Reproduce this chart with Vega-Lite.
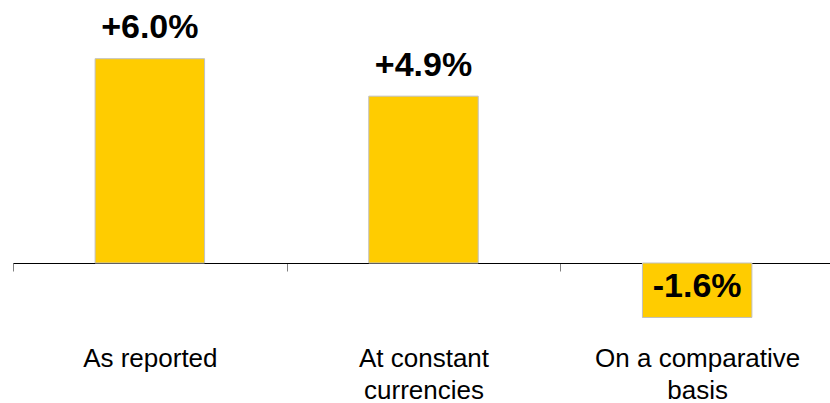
{
  "$schema": "https://vega.github.io/schema/vega-lite/v6.json",
  "width": 821,
  "height": 263,
  "autosize": {"type": "none"},
  "padding": {"left": 13, "top": 0, "right": 0, "bottom": 140},
  "background": "white",
  "config": {
    "view": {"stroke": null},
    "font": "Liberation Sans"
  },
  "data": {
    "values": [
      {"basis": "As reported", "growth": 6.0},
      {"basis": "At constant\ncurrencies", "growth": 4.9},
      {"basis": "On a comparative\nbasis", "growth": -1.6}
    ]
  },
  "transform": [
    {"calculate": "(datum.growth >= 0 ? '+' : '-') + format(abs(datum.growth), '.1f') + '%'", "as": "label"}
  ],
  "encoding": {
    "x": {
      "field": "basis",
      "type": "nominal",
      "sort": null,
      "scale": {"paddingInner": 0.6, "paddingOuter": 0.3},
      "axis": {
        "title": null,
        "labelAngle": 0,
        "labelExpr": "split(datum.label, '\\n')",
        "labelFont": "Liberation Sans",
        "labelFontSize": 26,
        "labelLineHeight": 32,
        "labelColor": "#000000",
        "labelPadding": 74,
        "labelLimit": 400,
        "tickOffset": -136.8,
        "labelOffset": 136.8,
        "tickSize": 8,
        "tickColor": "#808080",
        "tickWidth": 1,
        "domainColor": "#000000",
        "domainWidth": 1,
        "grid": false
      }
    },
    "y": {
      "field": "growth",
      "type": "quantitative",
      "scale": {"domain": [0, 7.724], "nice": false, "zero": true},
      "axis": null
    }
  },
  "layer": [
    {
      "mark": {"type": "bar", "fill": "#FFCC00", "stroke": "#C0C0C0", "strokeWidth": 1}
    },
    {
      "mark": {
        "type": "text",
        "font": "Liberation Sans",
        "fontSize": 34,
        "fontWeight": "bold",
        "color": "#000000",
        "baseline": "alphabetic",
        "align": "center",
        "dy": -20.5
      },
      "encoding": {"text": {"field": "label"}}
    }
  ]
}
